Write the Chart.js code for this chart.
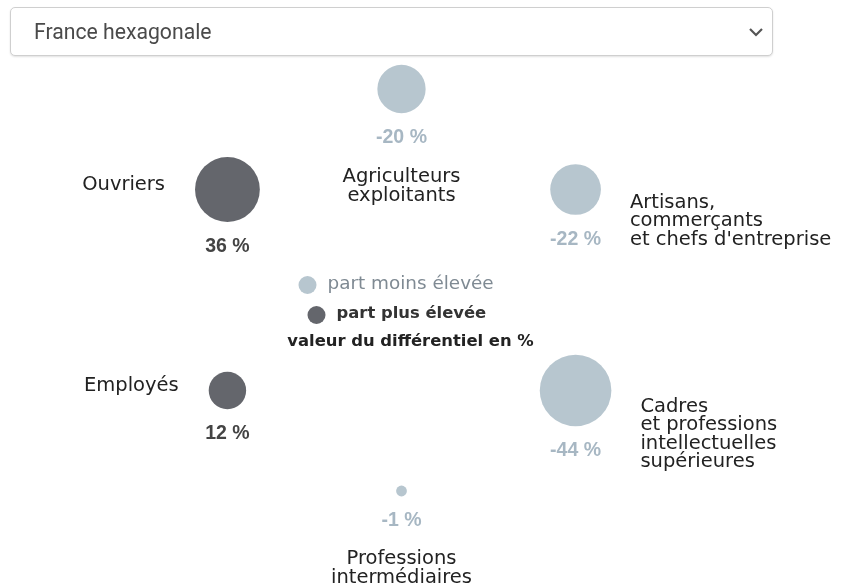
<!DOCTYPE html>
<html>
<head>
<meta charset="utf-8">
<script src="https://cdn.jsdelivr.net/npm/chart.js@4"></script>
<style>
  html, body { margin: 0; padding: 0; background: #fff; }
  #wrap { position: relative; width: 844px; height: 585px; overflow: hidden; }
  #chart { position: absolute; left: 0; top: 0; }
  #sel {
    position: absolute; left: 10px; top: 7px; width: 761px; height: 47px;
    border: 1px solid #cfcfcf; border-radius: 5px; background: #fff;
    box-shadow: 0 1px 2px rgba(0,0,0,0.12);
    font-family: Roboto, "Liberation Sans", sans-serif; font-size: 21.2px; color: #4a4a4a;
    line-height: 47px; box-sizing: content-box; z-index: 2;
  }
  #sel span { position: absolute; left: 23px; top: 0; }
  #sel svg { position: absolute; right: 8px; top: 19px; }
</style>
</head>
<body>
<div id="wrap">
  <canvas id="chart" width="844" height="585"></canvas>
  <div id="sel"><span>France hexagonale</span>
    <svg width="16" height="10" viewBox="0 0 16 10"><path d="M2 2 L8 8 L14 2" fill="none" stroke="#555" stroke-width="2.2"/></svg>
  </div>
</div>
<script>
// ---- data ----
const categories = [
  ["Agriculteurs", "exploitants"],
  ["Artisans,", "commerçants", "et chefs d'entreprise"],
  ["Cadres", "et professions", "intellectuelles", "supérieures"],
  ["Professions", "intermédiaires"],
  ["Employés"],
  ["Ouvriers"]
];
const differentials = [-20, -22, -44, -1, 12, 36];
const valueLabels = ["-20 %", "-22 %", "-44 %", "-1 %", "12 %", "36 %"];
const legendLabels = ["part moins élevée", "part plus élevée", "valeur du différentiel en %"];

// ---- styles ----
const LIGHT = "#b7c6cf";
const DARK = "#64666c";
const LIGHT_TXT = "#a7b7c3";
const DARK_TXT = "#444";
const FONT = '"DejaVu Sans", Verdana, sans-serif';
const VFONT = 'bold 19.5px "Liberation Sans", Arial, sans-serif';
const RADIUS_K = 5.4;

// hexagonal layout: one vertex per category, starting at the top, clockwise
const points = differentials.map((v, i) => {
  const a = (90 - 60 * i) * Math.PI / 180;
  return { x: Math.cos(a), y: Math.sin(a), r: RADIUS_K * Math.sqrt(Math.abs(v)) };
});

const labelPlugin = {
  id: 'labels',
  afterDatasetsDraw(chart) {
    const ctx = chart.ctx;
    const meta = chart.getDatasetMeta(0);
    const cx = chart.scales.x.getPixelForValue(0);
    const cy = chart.scales.y.getPixelForValue(0);
    ctx.save();
    meta.data.forEach((el, i) => {
      const r = el.options.radius;
      const v = differentials[i];
      const p = points[i];
      // value label
      ctx.font = VFONT;
      ctx.fillStyle = v < 0 ? LIGHT_TXT : DARK_TXT;
      ctx.textAlign = 'center';
      ctx.textBaseline = 'alphabetic';
      const vy = el.y + r + 30;
      ctx.fillText(valueLabels[i], el.x, vy);
      // category label
      ctx.textBaseline = 'middle';
      ctx.font = '19.5px ' + FONT;
      ctx.fillStyle = '#222';
      const lines = categories[i];
      const lh = 18.6;
      if (Math.abs(p.x) < 0.1) {
        ctx.textAlign = 'center';
        const y0 = vy + (p.y > 0 ? 34 : 33);
        lines.forEach((t, k) => ctx.fillText(t, el.x, y0 + k * lh));
      } else if (p.x > 0) {
        ctx.textAlign = 'left';
        const x0 = el.x + r + 29;
        const y0 = el.y + (r > 30 ? 16 : 13);
        lines.forEach((t, k) => ctx.fillText(t, x0, y0 + k * lh));
      } else {
        ctx.textAlign = 'right';
        const x0 = el.x - r - 30;
        const y0 = el.y - 5;
        lines.forEach((t, k) => ctx.fillText(t, x0, y0 + k * lh));
      }
    });
    // central legend
    ctx.textBaseline = 'middle';
    ctx.fillStyle = LIGHT;
    ctx.beginPath(); ctx.arc(cx - 94, cy - 5, 9, 0, Math.PI * 2); ctx.fill();
    ctx.fillStyle = DARK;
    ctx.beginPath(); ctx.arc(cx - 85, cy + 25, 9, 0, Math.PI * 2); ctx.fill();
    ctx.textAlign = 'left';
    ctx.font = '18.4px ' + FONT;
    ctx.fillStyle = '#7f8a93';
    ctx.fillText(legendLabels[0], cx - 74, cy - 6);
    ctx.font = 'bold 16.4px ' + FONT;
    ctx.fillStyle = '#333';
    ctx.fillText(legendLabels[1], cx - 65, cy + 24);
    ctx.textAlign = 'center';
    ctx.fillStyle = '#222';
    ctx.fillText(legendLabels[2], cx + 9, cy + 52);
    ctx.restore();
  }
};

const UNIT = 201;
const CX = 401.5, CY = 290;
new Chart(document.getElementById('chart'), {
  type: 'bubble',
  data: {
    datasets: [{
      data: points,
      backgroundColor: differentials.map(v => v < 0 ? LIGHT : DARK),
      borderWidth: 0,
      hoverRadius: 0,
      clip: false
    }]
  },
  options: {
    responsive: false,
    animation: false,
    events: [],
    layout: { padding: 0, autoPadding: false },
    plugins: { legend: { display: false }, tooltip: { enabled: false } },
    scales: {
      x: { type: 'linear', display: false, min: -CX / UNIT, max: (844 - CX) / UNIT },
      y: { type: 'linear', display: false, min: -(585 - CY) / UNIT, max: CY / UNIT }
    }
  },
  plugins: [labelPlugin]
});
</script>
</body>
</html>
